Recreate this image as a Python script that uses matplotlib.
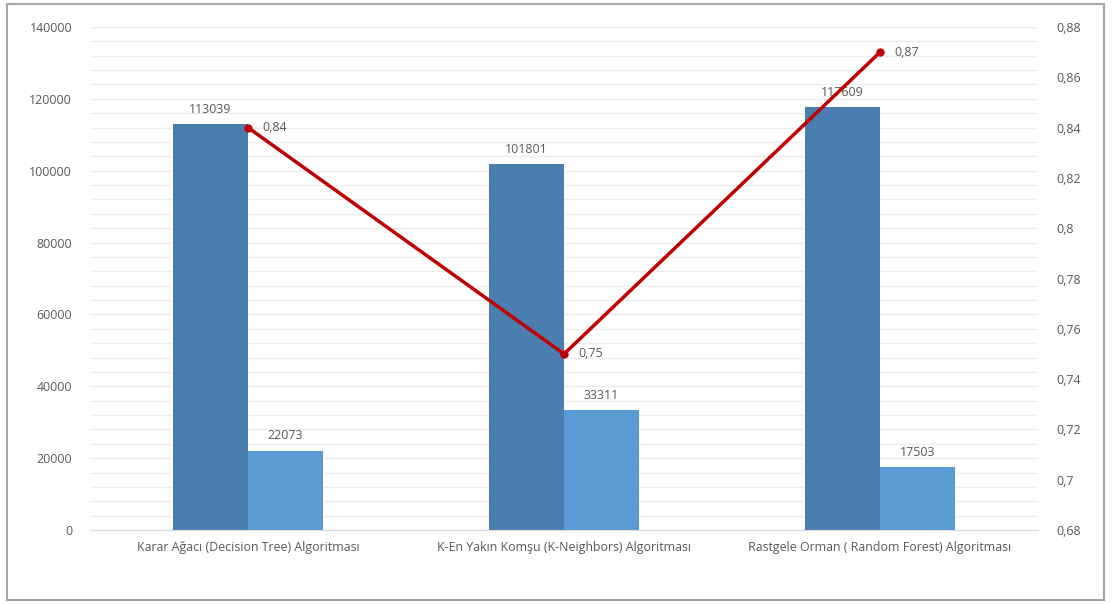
import matplotlib.pyplot as plt
import numpy as np
from matplotlib.patches import Rectangle
from matplotlib.ticker import FixedLocator, FuncFormatter

plt.rcParams['font.family'] = ['Open Sans', 'DejaVu Sans']

# Algorithm results
algorithms = ['Karar Ağacı (Decision Tree) Algoritması',
              'K-En Yakın Komşu (K-Neighbors) Algoritması',
              'Rastgele Orman ( Random Forest) Algoritması']
correct = [113039, 101801, 117609]
wrong = [22073, 33311, 17503]
accuracy = [0.84, 0.75, 0.87]

dark_blue = '#4A7EB1'
light_blue = '#5B9BD5'
red = '#C00000'
text_gray = '#595959'
fs = 8.9

fig = plt.figure(figsize=(11.12, 6.04), dpi=100)
ax = fig.add_axes([0.081, 0.1225, 0.8525, 0.8328])

x = np.arange(len(algorithms))
w = 0.237

b1 = ax.bar(x - w / 2, correct, w, color=dark_blue, zorder=2)
b2 = ax.bar(x + w / 2, wrong, w, color=light_blue, zorder=2)

for bars in (b1, b2):
    for rect in bars:
        ax.text(rect.get_x() + rect.get_width() / 2, rect.get_height() + 2300,
                f'{int(rect.get_height())}', ha='center', va='bottom',
                fontsize=fs, color=text_gray, zorder=4)

ax.set_xlim(-0.5, 2.5)
ax.set_ylim(0, 140000)
ax.set_yticks(np.arange(0, 140001, 20000))
ax.yaxis.set_minor_locator(FixedLocator(np.arange(0, 140001, 4000)))
ax.grid(True, which='both', axis='y', color='#EDEDED', linewidth=1, zorder=0)
ax.set_axisbelow(True)
ax.set_xticks(x)
ax.set_xticklabels(algorithms, fontsize=fs, color=text_gray)
ax.tick_params(axis='both', length=0, which='both', pad=8)
ax.tick_params(axis='y', labelsize=fs, labelcolor=text_gray, pad=13)
for side in ('top', 'left', 'right'):
    ax.spines[side].set_visible(False)
ax.spines['bottom'].set_color('#D9D9D9')

# Accuracy on the secondary axis
ax2 = ax.twinx()
ax2.plot(x, accuracy, color=red, linewidth=2.5, marker='o', markersize=5, zorder=3)
ax2.set_ylim(0.68, 0.88)
ax2.set_yticks(np.arange(0.68, 0.8801, 0.02))
ax2.yaxis.set_major_formatter(FuncFormatter(lambda v, p: f'{round(v, 2):g}'.replace('.', ',')))
ax2.tick_params(axis='y', length=0, labelsize=fs, labelcolor=text_gray, pad=13)
for side in ('top', 'left', 'right', 'bottom'):
    ax2.spines[side].set_visible(False)
for xi, v in zip(x, accuracy):
    ax2.text(xi + 0.045, v, f'{v:g}'.replace('.', ','), ha='left', va='center',
             fontsize=fs, color=text_gray)

# Chart frame
fig.patches.append(Rectangle((7 / 1112, 4 / 604), 1097 / 1112, 596 / 604,
                             transform=fig.transFigure, fill=False,
                             edgecolor='#A6A6A6', linewidth=1.5))

fig.savefig('out.png', dpi=100)
